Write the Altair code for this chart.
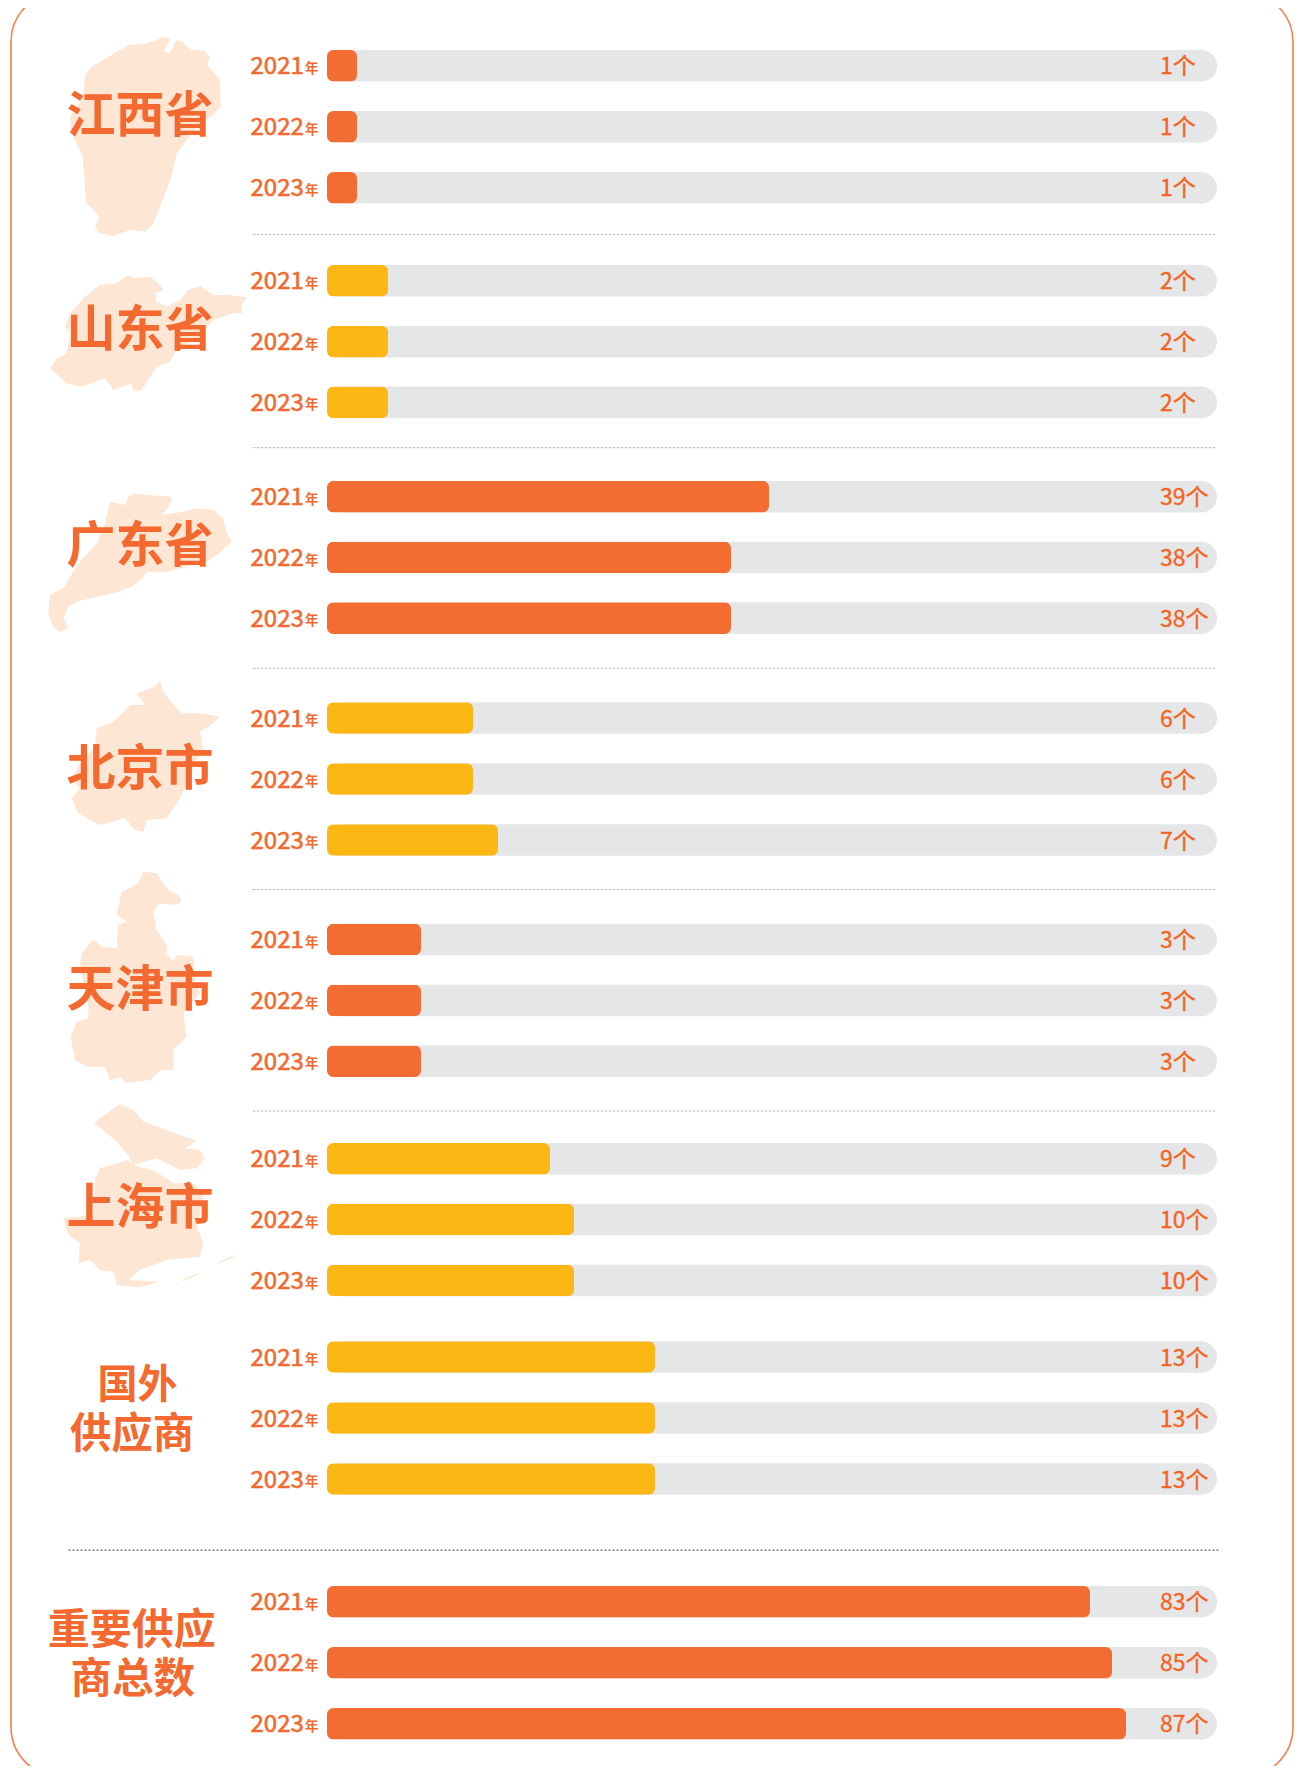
import altair as alt
import pandas as pd

# ---------- data ----------
regions = ["江西省", "山东省", "广东省", "北京市", "天津市", "上海市", "国外供应商", "重要供应商总数"]
years = ["2021", "2022", "2023"]
jiangxi = [1, 1, 1]
shandong = [2, 2, 2]
guangdong = [39, 38, 38]
beijing = [6, 6, 7]
tianjin = [3, 3, 3]
shanghai = [9, 10, 10]
abroad = [13, 13, 13]
total = [83, 85, 87]
series = [jiangxi, shandong, guangdong, beijing, tianjin, shanghai, abroad, total]
tones = ["a", "b", "a", "b", "a", "b", "b", "a"]

# ---------- scales: the picture's bar lengths are not proportional to the labels ----------
X_DOMAIN = [0, 1, 2, 3, 6, 7, 9, 10, 13, 38, 39, 83, 85, 87]
X_LENGTH = [0, 30, 61, 94, 146, 171, 223, 247, 328, 404, 442, 763, 785, 799]
BAR_LEFT = 327
ROW_CENTERS = [65.8, 126.8, 187.8, 280.7, 341.7, 402.4, 496.7, 557.5, 618.1, 718, 779, 840,
               939.5, 1000.5, 1061.2, 1158.8, 1219.5, 1280.5, 1357, 1418, 1479, 1601.8, 1662.8, 1723.8]
OFF = 8  # page margin
x_scale = alt.Scale(domain=X_DOMAIN, range=[BAR_LEFT - OFF + v for v in X_LENGTH], zero=False, nice=False)
y_scale = alt.Scale(domain=list(range(24)), range=[c - OFF for c in ROW_CENTERS], zero=False, nice=False, padding=0)

rows = []
for g, vals in enumerate(series):
    for i, v in enumerate(vals):
        rows.append({"region": regions[g], "year": years[i], "value": v, "row": g * 3 + i,
                     "tone": tones[g], "label": f"{v}个"})
df = pd.DataFrame(rows)

ORANGE = "#F36C32"
YELLOW = "#FDB714"
TEXT = "#F4692F"
TRACK = "#E5E6E8"
PALE = "#FDE6D3"
FONT = "Noto Sans CJK SC"
BAR_H = 31.6

Y = alt.Y("row:Q", scale=y_scale, axis=None)
base = alt.Chart(df)

jx = (0, 0, [(495,110),(510,118),(492,155),(510,160),(530,120),(545,125),(575,150),(610,150),(630,170),(622,195),(660,240),(662,320),(640,345),(600,370),(560,420),(530,460),(515,530),(480,620),(460,670),(435,695),(390,690),(340,708),(300,700),(285,680),(298,650),(258,605),(248,470),(215,400),(210,350),(250,290),(255,225),(275,200),(385,135),(440,130),(470,120)])
sd = (0, 0, [(385,825),(400,835),(450,830),(475,850),(490,870),(465,880),(470,905),(500,920),(540,900),(565,870),(600,858),(640,885),(690,885),(740,892),(725,915),(725,940),(700,940),(640,960),(600,1010),(530,1050),(510,1085),(470,1100),(445,1140),(425,1170),(400,1172),(395,1150),(340,1170),(315,1135),(275,1150),(240,1160),(200,1150),(150,1105),(170,1075),(200,1060),(210,1000),(195,980),(210,940),(255,890),(300,855),(350,850)])
gd = (0, 430, [(405,190),(440,195),(515,200),(510,225),(485,255),(550,245),(590,235),(640,240),(670,265),(680,310),(695,335),(650,375),(620,395),(560,410),(500,425),(440,425),(425,445),(395,470),(340,490),(290,500),(230,515),(205,530),(190,565),(205,595),(180,605),(160,590),(145,555),(150,495),(195,470),(210,440),(240,395),(290,340),(315,280),(330,215),(375,225),(385,200)])
bj = (0, 430, [(480,750),(490,785),(525,830),(545,850),(600,850),(660,860),(625,890),(600,905),(610,960),(590,990),(560,1060),(540,1105),(500,1165),(440,1170),(430,1205),(405,1200),(375,1165),(300,1185),(235,1150),(215,1105),(240,1075),(215,1050),(240,1000),(285,950),(290,895),(340,875),(390,825),(435,825),(410,790),(465,770)])
tj = (40, 850, [(310,65),(350,70),(385,120),(415,135),(425,155),(410,165),(355,160),(340,185),(350,240),(380,285),(380,310),(400,335),(410,315),(460,320),(465,400),(480,430),(430,490),(440,560),(400,600),(400,660),(360,660),(330,690),(255,700),(245,680),(210,690),(195,650),(140,650),(105,630),(92,560),(110,515),(145,505),(145,470),(120,350),(125,310),(160,268),(185,290),(230,295),(235,225),(260,215),(230,195),(245,125),(295,100)])
sh1 = (0, 1100, [(360,12),(400,30),(430,65),(590,122),(555,145),(600,150),(615,175),(590,205),(540,210),(470,175),(400,195),(385,165),(345,120),(282,68)])
sh2 = (0, 1100, [(300,205),(385,180),(400,195),(470,215),(520,250),(580,250),(610,290),(590,380),(610,430),(600,470),(500,480),(420,510),(385,540),(480,545),(420,562),(350,555),(340,515),(300,510),(270,480),(235,490),(240,430),(205,405),(190,355),(280,345),(285,240)])
sh3 = (0, 1100, [(652,488),(700,466),(702,470),(656,491)])
sh4 = (0, 1100, [(546,540),(595,519),(597,523),(550,544)])
maps = [[jx], [sd], [gd], [bj], [tj], [sh1, sh2, sh3, sh4]]


def silhouette(parts):
    pts = [(ox + px / 3, oy + py / 3) for ox, oy, p in parts for px, py in p]
    cx = (min(p[0] for p in pts) + max(p[0] for p in pts)) / 2
    cy = (min(p[1] for p in pts) + max(p[1] for p in pts)) / 2
    d = ""
    for ox, oy, p in parts:
        c = [((ox + px / 3 - cx) / 100, (oy + py / 3 - cy) / 100) for px, py in p]
        d += "M" + "L".join(f"{a:.3f},{b:.3f}" for a, b in c) + "Z"
    return alt.Chart(pd.DataFrame({"k": [0]})).mark_point(
        shape=d, size=40000, filled=True, fill=PALE, stroke=PALE, strokeWidth=0, opacity=1
    ).encode(x=alt.value(cx - OFF), y=alt.value(cy - OFF))


map_layers = [silhouette(m) for m in maps]

# ---------- frame (its right edge sits just inside the drawable area) ----------
frame = alt.Chart(pd.DataFrame({"k": [0]})).mark_rect(
    fill="white", stroke="#F58456", strokeWidth=1.7, cornerRadius=50
).encode(x=alt.value(11 - OFF), x2=alt.value(1293 - OFF), y=alt.value(-8 - OFF), y2=alt.value(1777 - OFF))

# ---------- separators ----------
sep_y = [234.3, 447.7, 668.3, 889.5, 1111]
seps = []
for sy in sep_y:
    seps.append(alt.Chart(pd.DataFrame({"k": [0]})).mark_rule(
        color="#B4B4B4", strokeWidth=1, strokeDash=[2.5, 1.5]
    ).encode(x=alt.value(253 - OFF), x2=alt.value(1217 - OFF), y=alt.value(sy - OFF)))
seps.append(alt.Chart(pd.DataFrame({"k": [0]})).mark_rule(
    color="#7F7F7F", strokeWidth=1.6, strokeDash=[2, 2]
).encode(x=alt.value(68.5 - OFF), x2=alt.value(1219 - OFF), y=alt.value(1550.3 - OFF)))

# ---------- bars ----------
track = base.mark_bar(size=BAR_H, cornerRadius=15.8, color=TRACK, orient="horizontal").encode(
    x=alt.value(BAR_LEFT - OFF), x2=alt.value(1217 - OFF), y=Y)
bars = base.mark_bar(size=BAR_H, cornerRadius=6.5, orient="horizontal").encode(
    x=alt.X("value:Q", scale=x_scale, axis=None),
    y=Y,
    color=alt.Color("tone:N", scale=alt.Scale(domain=["a", "b"], range=[ORANGE, YELLOW]), legend=None),
)

# ---------- row texts ----------
year_txt = base.mark_text(align="left", baseline="middle", font=FONT, fontSize=24, fontWeight=400,
                          color=TEXT, stroke=TEXT, strokeWidth=0.6, dy=1.5).encode(
    x=alt.value(250.5 - OFF), y=Y, text="year:N")
nian_txt = base.mark_text(align="right", baseline="middle", font=FONT, fontSize=13.5, fontWeight=700,
                          color=TEXT, dy=3).encode(x=alt.value(318.5 - OFF), y=Y, text=alt.value("年"))
val_txt = base.mark_text(align="left", baseline="middle", font=FONT, fontSize=23, fontWeight=400,
                         color="#F4641F", stroke="#F4641F", strokeWidth=0.35, dy=1.5).encode(
    x=alt.value(1160 - OFF), y=Y, text="label:N")

# ---------- group titles ----------
titles = [("江西省", 140, 117, 49), ("山东省", 140, 331, 49), ("广东省", 140, 547, 49),
          ("北京市", 140, 770, 49), ("天津市", 140, 990.5, 49), ("上海市", 140, 1209, 49),
          ("国外", 137.5, 1386, 40), ("供应商", 132, 1436, 41.5),
          ("重要供应", 131.7, 1631, 42), ("商总数", 132.7, 1681, 41.5)]
title_layers = [
    alt.Chart(pd.DataFrame({"k": [0]})).mark_text(
        align="center", baseline="middle", font=FONT, fontSize=fs, fontWeight=700, color=TEXT
    ).encode(x=alt.value(tx - OFF), y=alt.value(ty - OFF), text=alt.value(t))
    for t, tx, ty, fs in titles
]

chart = alt.layer(frame, *map_layers, *seps, track, bars, year_txt, nian_txt, val_txt, *title_layers).properties(
    width=1286, height=1758, autosize=alt.AutoSizeParams(type="none"), padding=0
).configure_view(stroke=None).resolve_scale(x="shared", y="shared")

chart.save("out.html", embed_options={"renderer": "svg", "actions": False})
